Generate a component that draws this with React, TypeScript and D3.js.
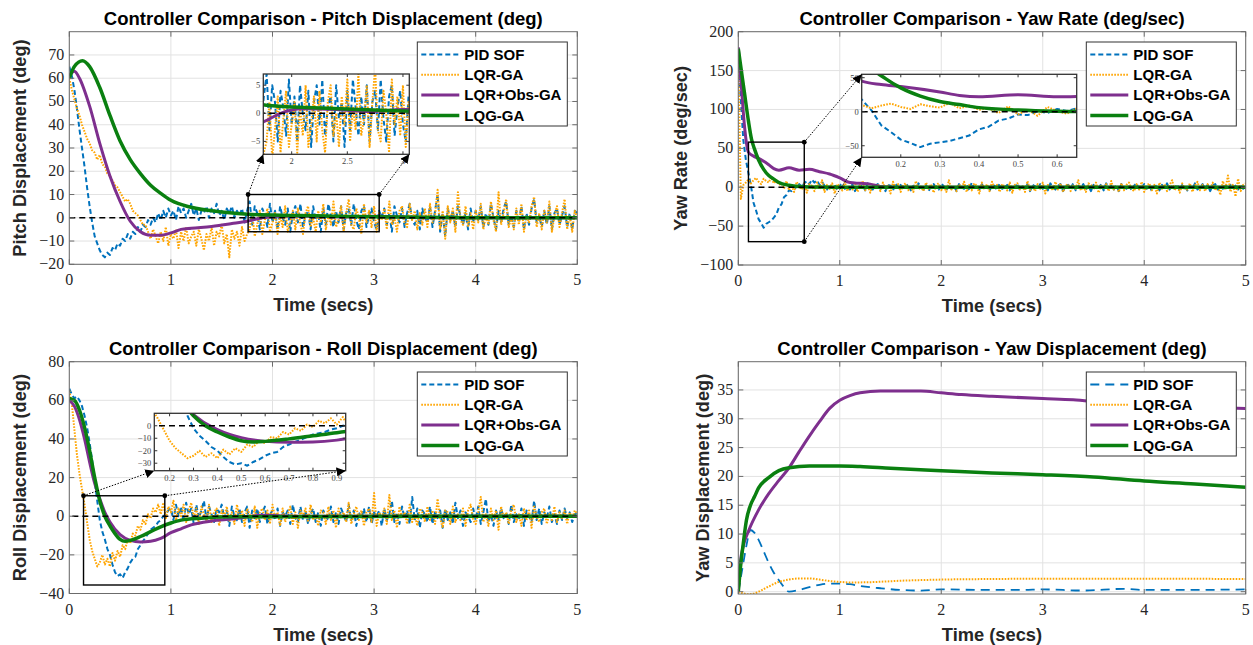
import React from "react";
import * as d3 from "d3";

// sample spacing of the noisy simulated responses (secs)
const DT = 0.025;
const X_TICKS = [0, 1, 2, 3, 4, 5];
const LEGEND_LABELS = ["PID SOF", "LQR-GA", "LQR+Obs-GA", "LQG-GA"];

// ---------- Pitch displacement ----------
const PITCH_TICKS = [-20, -10, 0, 10, 20, 30, 40, 50, 60, 70];
const PITCH_PID = [
  65, 61, 55, 47, 38, 30, 22, 13, 5, -2,
  -8, -11, -14, -16, -17, -15, -16, -13, -14, -11,
  -12, -9, -10, -7, -9, -6, -7, -4, -6, -3,
  -4, -1, -3, 0, -2, 2, -1,
  3, 0, 4, 1, 3, -1, 5, 2, 4, 0,
  3, 6, 1, 4, -1, 3, 2, 5, 0, 4,
  2, 6, 1, 3, -1, 4, 2, 5, 0, 3,
  1, 4, -2, 3,
  7, -3, 5, 2, -5, 4, 1, -4, 6, -2,
  3, -5, 5, 0, -3, 4, -6, 2, 5, -2,
  6, -4, 1, 3, -5, 5, -1, 2, -6, 4,
  -3, 6, 1, -4, 3, -2, 5, -5, 2, 4,
  -3, 6, -1, -5, 3, 5, -4, 1, 4, -2,
  -5, 3, 0, 4, -3, 2, -6, 5, 1, -2,
  4, -4, 2, 6, -1, -3, 3, -5, 4, 0,
  -2, 5, -4, 3, 10, -6, 2, -8, 4, -1,
  3, -4, 5, 1, -3, 2, -5, 4, -2, 3,
  -1, 5, -4, 2, -3, 6, 0, -5, 3, -2,
  4, 7, -3, 1, -4, 3, -2, 5, -5, 2,
  -3, 4, 8, -2, 1, -4, 3, -3, 5, -5,
  2, 4, -3, 1, 5, -4, 2, -5, 3, 2,
];
const PITCH_LQR = [
  60, 55, 51, 47, 44, 40, 37, 34, 32, 29,
  28, 25, 27, 23, 22, 19, 18, 16, 14, 13,
  11, 9, 7, 8, 6, 3, 2, 1, -1, -3,
  -3, -6, -9, -5, -8, -11, -6,
  -10, -4, -12, -7, -9, -5, -13, -6, -10, -4,
  -11, -8, -6, -12, -5, -9, -14, -7, -10, -4,
  -12, -6, -8, -3, -11, -7, -17, -5, -9, -6,
  -12, -4, -10, -7,
  -5, 2, -8, -3, 3, -7, -1, 4, -6, -2,
  2, -7, 1, -4, 5, -6, -2, 3, -5, 4,
  -3, -7, 2, 5, -4, 0, -6, 3, -2, 6,
  -5, 1, -3, 7, -4, -1, 5, -6, 2, 8,
  -3, -5, 4, 0, -7, 6, -2, 3, -4, 5,
  -6, 2, -1, 4, -5, 7, -3, 0, -6, 3,
  5, -2, -4, 6, -1, 3, -5, 2, -3, 4,
  -4, 6, -2, 1, 12, -5, 3, -9, 5, -2,
  4, -6, 11, -1, -3, 5, -4, 2, -5, 3,
  -2, 6, -5, 1, -3, 7, -1, -6, 11, -3,
  2, 8, -4, 0, -5, 4, -3, 6, -6, 1,
  -2, 5, 9, -4, 2, -5, 3, -2, 7, -6,
  1, 5, -4, 2, 8, -5, 1, -6, 3, 0,
];
const PITCH_OBS_T = [0, 0.05, 0.1, 0.2, 0.3, 0.4, 0.5, 0.6, 0.7, 0.8, 0.9, 1.0, 1.1, 1.2, 1.4, 1.6, 1.75, 1.9, 2.1, 2.4, 2.7, 3.0, 3.5, 4, 5];
const PITCH_OBS = [61, 63, 60, 48, 32, 18, 7, -1.5, -6, -7.5, -7.5, -6.5, -5, -4.5, -3.7, -2.5, -1.5, 0, 0.8, 0.7, 0.3, 0.7, 0, 0, 0];
const PITCH_LQG_T = [0, 0.05, 0.13, 0.2, 0.3, 0.4, 0.5, 0.6, 0.7, 0.8, 0.9, 1.0, 1.2, 1.5, 1.8, 2.2, 2.6, 3, 3.5, 4, 5];
const PITCH_LQG = [60, 65, 67.5, 65, 56, 44, 33, 25, 19, 14, 10.5, 7.5, 4.5, 2.5, 1.4, 1.0, 0.7, 0.4, 0.2, 0, 0];

// ---------- Yaw rate ----------
const YAWRATE_TICKS = [-100, -50, 0, 50, 100, 150, 200];
const YAWRATE_PID = [
  175, 110, 60, 35, 18, 2, -20, -30, -41, -46,
  -52, -47, -45, -43, -39, -35, -26, -22, -13, -10,
  -4, -5, 1, -2, 4, 1, 5,
  8, 4, 10, 6, 9, 3, 7, 2,
  -3, 4, -1, 3, -4, 2, 5, -2, 1, -3,
  4, -5, 2, 0, 3, -4, 5, -1, -3, 2,
  4, -2, 1, -5, 3, 2, -4, 5, -1, 3,
  -3, 1, 4, -4, 2, -2, 5, 0, -3, 3,
  -5, 2, 4, -1, -3, 5, 1, -4, 3, -2,
  2, -5, 4, 0, -2, 3, -4, 6, -1, 2,
  -3, 4, -2, 1, -5, 3, 2, -4, 5, -2,
  0, 3, -4, 2, -1, 5, -3, 1, -2, 4,
  -5, 3, 1, -3, 4, -2, 2, -4, 5, 0,
  -3, 2, 4, -5, 1, 3, -2, 5, -4, 2,
  -1, 4, -3, 2, -5, 3, 0, -2, 4, -4,
  5, -1, 2, -3, 3, -5, 4, 1, -2, 3,
  -4, 2, 5, -3, 0, 4, -2, 3, -5, 1,
  2, -4, 3, -1, 5, -3, 2, -2, 4, -5,
  3, 1, -4, 2, -2, 5, -3, 0, 4, -2,
  3, -5, 2, 4, -3, 1, -2, 5, -4, 3,
  -1, 2, -3, 4, -2, 1,
];
const YAWRATE_LQR = [
  172, -15, 3,
  6, 10, 5, 9, 12, 7, 4, 11, 8, 6, 13, 5, 9, 3,
  5, -2, 8, -4, 3, -6, 7, 1, -3, 5,
  -7, 4, 2, -5, 6, -3, 9, -6, 3, -2,
  5, -8, 4, 1, -4, 7, -5, 2, -3, 6,
  -6, 3, 8, -4, 2, -7, 5, -1, 4, -5,
  6, -3, 2, -8, 7, -2, 4, -6, 3, 5,
  -4, 2, -6, 8, -3, 1, -5, 6, -2, 4,
  -7, 3, 5, -4, 2, -6, 9, -3, 1, -5,
  4, -2, 7, -6, 3, -4, 5, 2, -8, 6,
  -3, 4, -5, 7, -2, 3, -6, 4, 1, -4,
  6, -7, 3, 5, -3, 2, -6, 8, -4, 2,
  -5, 4, -2, 6, -8, 3, 1, -4, 7, -3,
  5, -6, 2, 4, -5, 3, -2, 9, -4, 1,
  -6, 5, 3, -3, 6, -7, 2, -2, 4, -5,
  8, -3, 1, -6, 5, -4, 3, 6, -2, -5,
  4, -3, 7, -6, 2, 5, -4, 3, -8, 6,
  -2, 4, -5, 3, 9, -4, 2, -7, 5, -3,
  -3, 5, -6, 2, 7, -4, 3, -5, 4, -2,
  6, -4, 2, -10, 8, -3, 15, -6, 4, -12,
  11, -5, 3, 5,
];
const YAWRATE_OBS_T = [0, 0.03, 0.06, 0.1, 0.15, 0.2, 0.3, 0.35, 0.4, 0.5, 0.6, 0.7, 0.8, 0.9, 1.0, 1.1, 1.2, 1.3, 1.4, 1.6, 5];
const YAWRATE_OBS = [180, 130, 80, 45, 40, 37, 29, 24, 22, 25, 22, 23, 20, 17, 12, 6, 5, 4, 1, 0, 0];
const YAWRATE_LQG_T = [0, 0.03, 0.06, 0.1, 0.13, 0.16, 0.2, 0.25, 0.3, 0.35, 0.4, 0.5, 0.6, 0.7, 1, 5];
const YAWRATE_LQG = [178, 150, 122, 85, 62, 49, 35, 23, 15, 10.5, 6, 2.5, 0.8, 0.2, 0, 0];

// ---------- Roll displacement ----------
const ROLL_TICKS = [-40, -20, 0, 20, 40, 60, 80];
const ROLL_PID = [
  66, 63, 61, 62, 60, 57, 52, 46, 38, 29,
  18, 8, -2, -8, -12, -17, -20, -25, -29, -31,
  -30, -32, -29, -27, -24, -22, -21, -17, -15, -13,
  -11, -9, -7, -6, -5, -3, -2, 0, 1, 3,
  4,
  -2, 6, 0, 5, -3, 7, 1, 4, -4, 6,
  -1, 3, 8, -2, 5, 1, -3, 4, 2, 6,
  -1, 3, -5, 5, 0, -2, 4, -3, 2, 5,
  -6, 3, -1, 4, -3, 2, 5, -4, 1, 3,
  -2, 4, -5, 2, 0, 3, -4, 6, -1, -3,
  5, -2, 3, -4, 1, 4, -3, 2, -5, 3,
  0, -2, 5, -3, 2, -4, 4, 1, -3, 6,
  -2, 3, -5, 2, -1, 4, -3, 5, -4, 2,
  0, 3, -5, 4, -2, 1, 8, -3, 2, -4,
  5, -1, 3, -4, 10, -2, 4, -6, 3, 1,
  -3, 5, -4, 2, -1, 3, -6, 4, -2, 2,
  -4, 7, -1, 3, -5, 2, 0, -3, 4, -2,
  5, -4, 2, 9, -3, 1, -5, 3, -2, 4,
  -1, 2, -4, 6, -3, 1, -2, 4, -5, 3,
  0, -3, 8, -2, 4, -4, 2, -1, 5, -3,
  1, -4, 3, -2, 4, -1, 2, -3, 1, 2,
];
const ROLL_LQR = [
  65, 58, 45, 32, 22, 14, 6, -3, -12, -18,
  -22, -26, -24, -20, -25, -22, -26, -19, -23, -18,
  -21, -15, -17, -12, -14, -9, -10, -5, -7, -2,
  -4, 1, -1, 4, 2, 6, 1,
  7, -1, 5, 2, 8, -2, 4, 0, 6, -3,
  3, 7, -1, 4, -4, 5, 1, -2, 6, -3,
  2, 4, -5, 3, 0, 5, -3, 2, -4, 6,
  -1, 3, -5, 4, 1, -3, 5, -6, 2, 4,
  -2, 3, -4, 6, -1, 2, -5, 4, -3, 1,
  5, -4, 2, -6, 3, 0, 4, -3, 6, -2,
  1, -5, 3, 2, -4, 5, -2, 3, -6, 4,
  -1, 2, -3, 7, -4, 1, 5, -2, 3, -5,
  2, 4, -3, 12, -5, 2, -1, 4, -4, 11,
  -2, 3, -6, 5, -1, 2, -4, 6, -3, 1,
  -5, 4, 2, -3, 5, -2, 3, -4, 9, -1,
  -6, 3, 2, -4, 5, -3, 1, -2, 4, -5,
  3, 6, -2, -4, 2, 10, -3, 1, -5, 4,
  -2, 3, -7, 5, -1, 2, -4, 3, 6, -3,
  1, -5, 4, -2, 3, -6, 5, 0, -3, 2,
  4, -4, 1, -2, 5, -3, 2, -1, 3, -4,
  2, -1, 3, 1,
];
const ROLL_OBS_T = [0, 0.05, 0.1, 0.15, 0.2, 0.25, 0.3, 0.35, 0.4, 0.5, 0.6, 0.7, 0.8, 0.9, 1.0, 1.1, 1.2, 1.4, 1.6, 1.9, 2.2, 5];
const ROLL_OBS = [60, 57, 50, 40, 28, 17, 9, 2, -3, -9.5, -12.5, -13.3, -13, -11.5, -8.5, -6.5, -4.5, -2.5, -1.5, 0.5, 0, 0];
const ROLL_LQG_T = [0, 0.05, 0.1, 0.15, 0.2, 0.25, 0.3, 0.35, 0.4, 0.45, 0.5, 0.55, 0.6, 0.7, 0.8, 0.9, 1.0, 1.1, 1.3, 1.6, 5];
const ROLL_LQG = [61, 60, 55, 46, 34, 20, 8, 0, -5, -9, -12, -13, -12.5, -10.5, -8, -5.5, -3.5, -2, -1, -0.3, 0];

// ---------- Yaw displacement ----------
const YAWDISP_TICKS = [0, 5, 10, 15, 20, 25, 30, 35];
const YAWDISP_PID_T = [0, 0.04, 0.08, 0.12, 0.16, 0.2, 0.25, 0.3, 0.35, 0.4, 0.45, 0.5, 0.6, 0.7, 0.8, 0.9, 1.0, 1.1, 1.2, 1.4, 1.6, 1.8, 2.0, 2.4, 2.8, 3.0, 3.4, 3.8, 4.0, 4.4, 5];
const YAWDISP_PID = [0, 4, 8, 10.7, 10.2, 9, 7, 5, 3.3, 2, 0.8, 0, 0.3, 0.8, 1.2, 1.4, 1.4, 1.3, 1.0, 0.6, 0.3, 0.2, 0.4, 0.3, 0.3, 0.4, 0.2, 0.5, 0.3, 0.3, 0.4];
const YAWDISP_LQR_T = [0, 0.05, 0.1, 0.15, 0.2, 0.3, 0.4, 0.5, 0.6, 0.7, 0.8, 0.9, 1.0, 1.1, 1.3, 1.6, 2.0, 2.5, 3.0, 4.0, 5];
const YAWDISP_LQR = [0, -0.3, -0.45, -0.35, 0, 0.9, 1.7, 2.1, 2.3, 2.3, 2.1, 1.85, 1.7, 1.6, 1.65, 1.9, 2.1, 2.2, 2.25, 2.25, 2.2];
const YAWDISP_OBS_T = [0, 0.02, 0.05, 0.1, 0.2, 0.3, 0.4, 0.5, 0.6, 0.7, 0.8, 0.9, 1.0, 1.1, 1.2, 1.4, 1.6, 1.8, 2.0, 2.2, 2.5, 3.0, 3.3, 3.6, 4.0, 4.5, 5];
const YAWDISP_OBS = [0, 5, 8, 10.5, 14.2, 17, 19.3, 21.5, 24.3, 27, 29.5, 31.8, 33.2, 34, 34.5, 34.8, 34.8, 34.8, 34.5, 34.2, 33.9, 33.5, 33.3, 32.8, 32.4, 32, 31.8];
const YAWDISP_LQG_T = [0, 0.02, 0.05, 0.08, 0.12, 0.16, 0.2, 0.3, 0.4, 0.5, 0.7, 1.0, 1.2, 1.5, 2.0, 2.5, 3.0, 3.5, 4.0, 4.5, 5];
const YAWDISP_LQG = [0, 4, 8.5, 12.4, 15, 16.5, 18, 19.8, 21, 21.5, 21.8, 21.8, 21.7, 21.4, 21, 20.6, 20.3, 19.9, 19.2, 18.7, 18.1];

const COLORS = { pid: "#0072BD", lqr: "#FFA500", obs: "#7E2F8E", lqg: "#0A8010" };
const SANS = "'Liberation Sans', Arial, Helvetica, sans-serif";
const SERIF = "'Liberation Serif', 'DejaVu Serif', serif";

type Pt = [number, number];

function gridPoints(values: number[]): Pt[] {
  return values.map((v, i) => [i * DT, v]);
}
function keyPoints(ts: number[], vs: number[]): Pt[] {
  return ts.map((t, i) => [t, vs[i]]);
}

const PANELS = [
  {
    id: "pitch",
    box: { left: 69.3, top: 31.7, width: 508, height: 232.6 },
    title: "Controller Comparison - Pitch Displacement (deg)",
    yLabel: "Pitch Displacement (deg)",
    yLabelDx: -50,
    yDomain: [-20, 80],
    yTicks: PITCH_TICKS,
    pid: gridPoints(PITCH_PID),
    lqr: gridPoints(PITCH_LQR),
    obs: keyPoints(PITCH_OBS_T, PITCH_OBS),
    lqg: keyPoints(PITCH_LQG_T, PITCH_LQG),
    noisy: true,
    zeroFrom: 0,
    inset: {
      box: { dx: 194, dy: 42.3, w: 146, h: 80.3 },
      xDomain: [1.745, 3.057],
      yDomain: [-7.3, 7],
      xTicks: [2, 2.5, 3],
      yTicks: [-5, 0, 5],
      zoom: [1.76, 3.05, -6, 10],
      links: [["tl", "bl"], ["tr", "br"]],
    },
  },
  {
    id: "yawrate",
    box: { left: 738.3, top: 31.7, width: 507.4, height: 233.3 },
    title: "Controller Comparison - Yaw Rate (deg/sec)",
    yLabel: "Yaw Rate (deg/sec)",
    yLabelDx: -57.6,
    yDomain: [-100, 200],
    yTicks: YAWRATE_TICKS,
    pid: gridPoints(YAWRATE_PID),
    lqr: gridPoints(YAWRATE_LQR),
    obs: keyPoints(YAWRATE_OBS_T, YAWRATE_OBS),
    lqg: keyPoints(YAWRATE_LQG_T, YAWRATE_LQG),
    noisy: true,
    zeroFrom: 0.1,
    inset: {
      box: { dx: 123.4, dy: 42.6, w: 215, h: 83 },
      xDomain: [0.1, 0.65],
      yDomain: [-67, 55],
      xTicks: [0.2, 0.3, 0.4, 0.5, 0.6],
      yTicks: [-50, 0, 50],
      zoom: [0.1, 0.65, -70, 58],
      links: [["tr", "tl"], ["br", "bl"]],
    },
  },
  {
    id: "roll",
    box: { left: 69.3, top: 361.7, width: 508, height: 231.8 },
    title: "Controller Comparison - Roll Displacement (deg)",
    yLabel: "Roll Displacement (deg)",
    yLabelDx: -50,
    yDomain: [-40, 80],
    yTicks: ROLL_TICKS,
    pid: gridPoints(ROLL_PID),
    lqr: gridPoints(ROLL_LQR),
    obs: keyPoints(ROLL_OBS_T, ROLL_OBS),
    lqg: keyPoints(ROLL_LQG_T, ROLL_LQG),
    noisy: true,
    zeroFrom: 0.03,
    inset: {
      box: { dx: 85, dy: 51.6, w: 191.4, h: 57.4 },
      xDomain: [0.136, 0.937],
      yDomain: [-36, 10],
      xTicks: [0.2, 0.3, 0.4, 0.5, 0.6, 0.7, 0.8, 0.9],
      yTicks: [-30, -20, -10, 0],
      zoom: [0.14, 0.94, -35.6, 10.6],
      links: [["tl", "bl"], ["tr", "br"]],
    },
  },
  {
    id: "yawdisp",
    box: { left: 738.3, top: 361.7, width: 507.4, height: 232.3 },
    title: "Controller Comparison - Yaw Displacement (deg)",
    yLabel: "Yaw Displacement (deg)",
    yLabelDx: -35.7,
    yDomain: [-0.4, 39.9],
    yTicks: YAWDISP_TICKS,
    pid: keyPoints(YAWDISP_PID_T, YAWDISP_PID),
    lqr: keyPoints(YAWDISP_LQR_T, YAWDISP_LQR),
    obs: keyPoints(YAWDISP_OBS_T, YAWDISP_OBS),
    lqg: keyPoints(YAWDISP_LQG_T, YAWDISP_LQG),
    noisy: false,
    zeroFrom: null,
    inset: null,
  },
];

function seriesStyles(noisy: boolean) {
  return [
    { key: "pid", color: COLORS.pid, width: noisy ? 2 : 1.8, dash: noisy ? "5,3" : "9,6" },
    { key: "lqr", color: COLORS.lqr, width: 2, dash: "1.6,1.4" },
    { key: "obs", color: COLORS.obs, width: 3, dash: null },
    { key: "lqg", color: COLORS.lqg, width: 3.5, dash: null },
  ];
}

function makeLine(x, y, smooth: boolean) {
  return d3
    .line<Pt>()
    .x((d) => x(d[0]))
    .y((d) => y(d[1]))
    .curve(smooth ? d3.curveMonotoneX : d3.curveLinear);
}

function Traces({ p, x, y, clipId }) {
  const styles = seriesStyles(p.noisy);
  return (
    <g clipPath={`url(#${clipId})`}>
      {styles.map((s) => {
        const smooth = !p.noisy || s.key === "obs" || s.key === "lqg";
        return (
          <path
            key={s.key}
            d={makeLine(x, y, smooth)(p[s.key]) || ""}
            fill="none"
            stroke={s.color}
            strokeWidth={s.width}
            strokeDasharray={s.dash || undefined}
            strokeLinejoin="round"
          />
        );
      })}
      {p.zeroFrom !== null && (
        <line
          x1={x(p.zeroFrom)}
          x2={x(5)}
          y1={y(0)}
          y2={y(0)}
          stroke="#000"
          strokeWidth={1.6}
          strokeDasharray="6,4"
        />
      )}
    </g>
  );
}

function Inset({ p }) {
  const ins = p.inset;
  const left = p.box.left + ins.box.dx;
  const top = p.box.top + ins.box.dy;
  const x = d3.scaleLinear().domain(ins.xDomain).range([left, left + ins.box.w]);
  const y = d3.scaleLinear().domain(ins.yDomain).range([top + ins.box.h, top]);
  const mx = d3.scaleLinear().domain([0, 5]).range([p.box.left, p.box.left + p.box.width]);
  const my = d3.scaleLinear().domain(p.yDomain).range([p.box.top + p.box.height, p.box.top]);
  const [z0, z1, zv0, zv1] = ins.zoom;
  const zr = { x0: mx(z0), x1: mx(z1), y0: my(zv1), y1: my(zv0) };
  const ir = { x0: left, x1: left + ins.box.w, y0: top, y1: top + ins.box.h };
  const corner = (r, c: string): Pt => [c[1] === "l" ? r.x0 : r.x1, c[0] === "t" ? r.y0 : r.y1];
  const clipId = `inset-clip-${p.id}`;
  const tickLen = 3;
  return (
    <g>
      <defs>
        <clipPath id={clipId}>
          <rect x={left} y={top} width={ins.box.w} height={ins.box.h} />
        </clipPath>
      </defs>
      <rect x={zr.x0} y={zr.y0} width={zr.x1 - zr.x0} height={zr.y1 - zr.y0} fill="none" stroke="#000" strokeWidth={1.4} />
      <rect x={left} y={top} width={ins.box.w} height={ins.box.h} fill="#fff" />
      <Traces p={p} x={x} y={y} clipId={clipId} />
      <rect x={left} y={top} width={ins.box.w} height={ins.box.h} fill="none" stroke="#333" strokeWidth={1.3} />
      {ins.xTicks.map((t) => (
        <g key={`ix${t}`}>
          <line x1={x(t)} x2={x(t)} y1={ir.y1} y2={ir.y1 - tickLen} stroke="#333" />
          <line x1={x(t)} x2={x(t)} y1={ir.y0} y2={ir.y0 + tickLen} stroke="#333" />
          <text x={x(t)} y={ir.y1 + 10} textAnchor="middle" fontFamily={SERIF} fontSize={8.5} fill="#444">
            {d3.format("~g")(t)}
          </text>
        </g>
      ))}
      {ins.yTicks.map((v) => (
        <g key={`iy${v}`}>
          <line x1={ir.x0} x2={ir.x0 + tickLen} y1={y(v)} y2={y(v)} stroke="#333" />
          <line x1={ir.x1} x2={ir.x1 - tickLen} y1={y(v)} y2={y(v)} stroke="#333" />
          <text x={ir.x0 - 3} y={y(v) + 3} textAnchor="end" fontFamily={SERIF} fontSize={8.5} fill="#444">
            {d3.format("~g")(v)}
          </text>
        </g>
      ))}
      {ins.links.map(([from, to], i) => {
        const a = corner(zr, from);
        const b = corner(ir, to);
        return (
          <g key={i}>
            <line
              x1={a[0]}
              y1={a[1]}
              x2={b[0]}
              y2={b[1]}
              stroke="#000"
              strokeWidth={1}
              strokeDasharray="1.5,1.5"
              markerEnd="url(#arrowHead)"
            />
            <circle cx={a[0]} cy={a[1]} r={2.4} fill="#000" />
          </g>
        );
      })}
    </g>
  );
}

function Legend({ p }) {
  const lx = p.box.left + 348;
  const ly = p.box.top + 10.3;
  const styles = seriesStyles(p.noisy);
  return (
    <g>
      <rect x={lx} y={ly} width={150} height={84} fill="#fff" stroke="#333" strokeWidth={1} />
      {LEGEND_LABELS.map((label, i) => {
        const s = styles[i];
        const cy = ly + 12.5 + i * 20.3;
        return (
          <g key={label}>
            <line
              x1={lx + 4}
              x2={lx + 42}
              y1={cy}
              y2={cy}
              stroke={s.color}
              strokeWidth={s.width}
              strokeDasharray={s.dash || undefined}
            />
            <text x={lx + 47} y={cy + 5.3} fontFamily={SANS} fontWeight="bold" fontSize={15} fill="#000">
              {label}
            </text>
          </g>
        );
      })}
    </g>
  );
}

function Panel({ p }) {
  const { left, top, width, height } = p.box;
  const right = left + width;
  const bottom = top + height;
  const x = d3.scaleLinear().domain([0, 5]).range([left, right]);
  const y = d3.scaleLinear().domain(p.yDomain).range([bottom, top]);
  const clipId = `clip-${p.id}`;
  const tickLen = 5;
  const fmt = d3.format("");
  return (
    <g>
      <defs>
        <clipPath id={clipId}>
          <rect x={left} y={top} width={width} height={height} />
        </clipPath>
      </defs>
      <rect x={left} y={top} width={width} height={height} fill="#fff" />
      {X_TICKS.map((t) => (
        <line key={`gx${t}`} x1={x(t)} x2={x(t)} y1={top} y2={bottom} stroke="#e2e2e2" strokeWidth={1} />
      ))}
      {p.yTicks.map((v) => (
        <line key={`gy${v}`} x1={left} x2={right} y1={y(v)} y2={y(v)} stroke="#e2e2e2" strokeWidth={1} />
      ))}
      <Traces p={p} x={x} y={y} clipId={clipId} />
      <rect x={left} y={top} width={width} height={height} fill="none" stroke="#6b6b6b" strokeWidth={1} />
      {X_TICKS.map((t) => (
        <g key={`tx${t}`}>
          <line x1={x(t)} x2={x(t)} y1={bottom} y2={bottom - tickLen} stroke="#6b6b6b" />
          <line x1={x(t)} x2={x(t)} y1={top} y2={top + tickLen} stroke="#6b6b6b" />
          <text x={x(t)} y={bottom + 21} textAnchor="middle" fontFamily={SERIF} fontSize={16} fill="#262626">
            {fmt(t)}
          </text>
        </g>
      ))}
      {p.yTicks.map((v) => (
        <g key={`ty${v}`}>
          <line x1={left} x2={left + tickLen} y1={y(v)} y2={y(v)} stroke="#6b6b6b" />
          <line x1={right} x2={right - tickLen} y1={y(v)} y2={y(v)} stroke="#6b6b6b" />
          <text x={left - 5} y={y(v) + 5} textAnchor="end" fontFamily={SERIF} fontSize={16} fill="#262626">
            {fmt(v)}
          </text>
        </g>
      ))}
      <text
        x={(left + right) / 2}
        y={top - 6.7}
        textAnchor="middle"
        fontFamily={SANS}
        fontWeight="bold"
        fontSize={18.5}
        fill="#000"
      >
        {p.title}
      </text>
      <text
        x={(left + right) / 2}
        y={bottom + 47}
        textAnchor="middle"
        fontFamily={SANS}
        fontWeight="bold"
        fontSize={18.3}
        fill="#262626"
      >
        Time (secs)
      </text>
      <text
        transform={`translate(${left + p.yLabelDx},${(top + bottom) / 2}) rotate(-90)`}
        textAnchor="middle"
        dy="0.35em"
        fontFamily={SANS}
        fontWeight="bold"
        fontSize={18.2}
        fill="#262626"
      >
        {p.yLabel}
      </text>
      {p.inset && <Inset p={p} />}
      <Legend p={p} />
    </g>
  );
}

export default function App() {
  return (
    <svg
      width={1253}
      height={645}
      viewBox="0 0 1253 645"
      style={{ position: "absolute", left: 0, top: 0, background: "#fff" }}
    >
      <defs>
        <marker
          id="arrowHead"
          viewBox="0 0 10 10"
          refX={10}
          refY={5}
          markerWidth={9}
          markerHeight={9}
          markerUnits="userSpaceOnUse"
          orient="auto"
        >
          <path d="M0,0 L10,5 L0,10 z" fill="#000" />
        </marker>
      </defs>
      <rect width={1253} height={645} fill="#fff" />
      {PANELS.map((p) => (
        <Panel key={p.id} p={p} />
      ))}
    </svg>
  );
}
